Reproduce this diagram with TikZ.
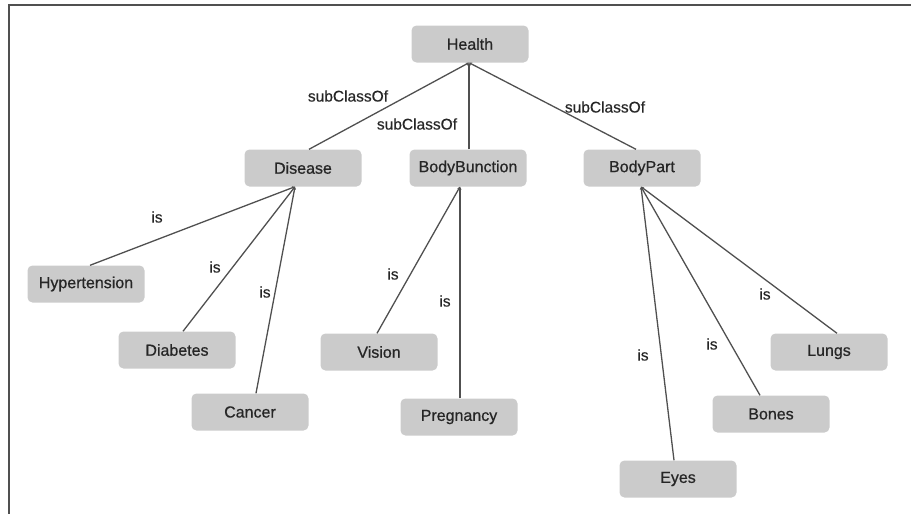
\documentclass[tikz,border=0pt]{standalone}
\usepackage{fontspec}
\setmainfont{Liberation Sans}
\newfontfamily\conceptfont{Liberation Sans}[FakeBold=0.7]
\newfontfamily\labelfont{Liberation Sans}[FakeBold=0.4]
\usetikzlibrary{calc,arrows.meta}
\definecolor{boxgray}{HTML}{CBCBCB}
\definecolor{txtgray}{HTML}{262626}
\definecolor{linegray}{HTML}{505050}
\begin{document}
\begin{tikzpicture}[x=1pt,y=-1pt,
  concept/.style={fill=boxgray, rounded corners=5pt, minimum width=117pt,
    minimum height=37pt, inner sep=0pt, text=txtgray,
    font=\conceptfont\fontsize{16}{18}\selectfont},
  rel/.style={draw=linegray, line width=1.3pt, -{Stealth[length=3pt,width=3pt]}},
  lbl/.style={inner sep=0pt, text=txtgray, font=\labelfont\fontsize{15.5}{18}\selectfont},
  frame/.style={draw=linegray, line width=1.4pt}]
\useasboundingbox (0,0) rectangle (911,514);

% frame (top and left edges only)
\draw[frame] (9,514) -- (9,5) -- (911,5);

% concepts
\node[concept] (health) at (470,44) {Health};
\node[concept] (disease) at (303,168) {Disease};
\node[concept] (bodyfn) at (468,168) {BodyBunction};
\node[concept] (bodypart) at (642,168) {BodyPart};
\node[concept] (hyper) at (86,284) {Hypertension};
\node[concept] (diab) at (177,350) {Diabetes};
\node[concept] (cancer) at (250,412) {Cancer};
\node[concept] (vision) at (379,352) {Vision};
\node[concept] (preg) at (459,417) {Pregnancy};
\node[concept] (lungs) at (829,352) {Lungs};
\node[concept] (bones) at (771,414) {Bones};
\node[concept] (eyes) at (678,479) {Eyes};

% attachment points
\coordinate (hS) at ($(health.south)+(-1,0)$);
\coordinate (dN) at ($(disease.north)+(6,0)$);
\coordinate (fN) at ($(bodyfn.north)+(1,0)$);
\coordinate (pN) at ($(bodypart.north)+(-6,0)$);
\coordinate (dS) at ($(disease.south)+(-8,0)$);
\coordinate (fS) at ($(bodyfn.south)+(-8,0)$);
\coordinate (pS) at ($(bodypart.south)+(-1,0)$);
\coordinate (hyN) at ($(hyper.north)+(4,0)$);
\coordinate (diN) at ($(diab.north)+(6,0)$);
\coordinate (caN) at ($(cancer.north)+(6,0)$);
\coordinate (viN) at ($(vision.north)+(-2,0)$);
\coordinate (prN) at ($(preg.north)+(1,0)$);
\coordinate (luN) at ($(lungs.north)+(8,0)$);
\coordinate (boN) at ($(bones.north)+(-11,0)$);
\coordinate (eyN) at ($(eyes.north)+(-4,0)$);

% subclass relations
\draw[rel] (dN) -- (hS);
\draw[rel] (fN) -- (hS);
\draw[rel] (pN) -- (hS);

% instance relations
\draw[rel] (hyN) -- (dS);
\draw[rel] (diN) -- (dS);
\draw[rel] (caN) -- (dS);
\draw[rel] (viN) -- (fS);
\draw[rel] (prN) -- (fS);
\draw[rel] (eyN) -- (pS);
\draw[rel] (boN) -- (pS);
\draw[rel] (luN) -- (pS);

% relation labels
\node[lbl] (l1) at (348,96) {subClassOf};
\node[lbl] (l2) at (417,124) {subClassOf};
\node[lbl] (l3) at (605,107) {subClassOf};
\node[lbl] (i1) at (157,217) {is};
\node[lbl] (i2) at (215,267) {is};
\node[lbl] (i3) at (265,292) {is};
\node[lbl] (i4) at (393,274) {is};
\node[lbl] (i5) at (445,301) {is};
\node[lbl] (i6) at (643,355) {is};
\node[lbl] (i7) at (712,344) {is};
\node[lbl] (i8) at (765,294) {is};
\end{tikzpicture}
\end{document}
